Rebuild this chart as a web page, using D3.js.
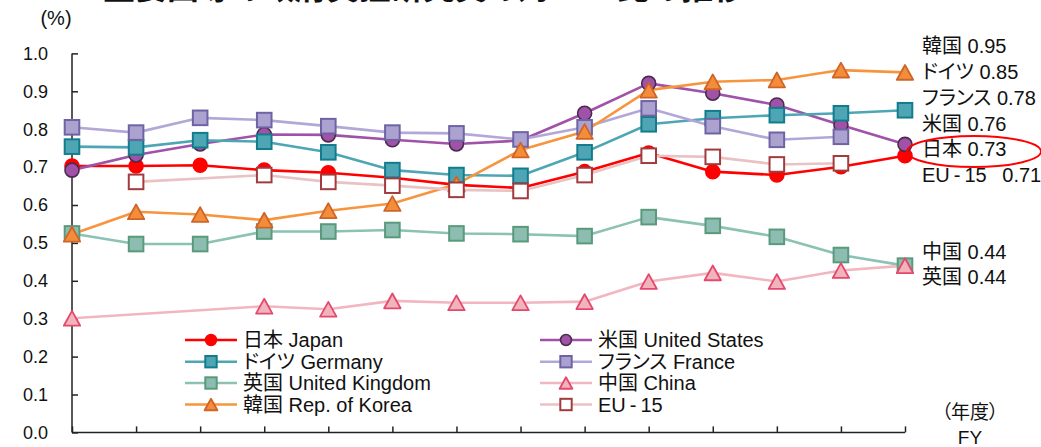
<!DOCTYPE html>
<html>
<head>
<meta charset="utf-8">
<script src="https://cdn.jsdelivr.net/npm/d3@7"></script>
<style>
  html, body { margin: 0; padding: 0; background: #fff; }
  svg { display: block; }
  text { font-family: "Liberation Sans", Arial, "Noto Sans CJK JP", sans-serif; fill: #111; font-feature-settings: "palt"; }
</style>
</head>
<body>
<svg id="chart" width="1041" height="447"></svg>
<script>
// Fiscal years on the horizontal axis
const categories = ["2000", "2001", "2002", "2003", "2004", "2005", "2006",
                    "2007", "2008", "2009", "2010", "2011", "2012", "2013"];
const yTicks = [0, 0.1, 0.2, 0.3, 0.4, 0.5, 0.6, 0.7, 0.8, 0.9, 1.0];

// Ratio (%) per country; null = no figure for that year
const japan   = [0.703, 0.703, 0.705, 0.692, 0.685, 0.672, 0.653, 0.645, 0.688, 0.737, 0.688, 0.679, 0.701, 0.73];
const usa     = [0.692, 0.732, 0.761, 0.786, 0.785, 0.772, 0.761, 0.770, 0.842, 0.921, 0.895, 0.864, 0.811, 0.76];
const germany = [0.754, 0.752, 0.771, 0.767, 0.739, 0.692, 0.679, 0.677, 0.739, 0.813, 0.829, 0.837, 0.842, 0.85];
const france  = [0.805, 0.791, 0.830, 0.824, 0.808, 0.791, 0.789, 0.773, 0.805, 0.855, 0.808, 0.772, 0.78, null];
const uk      = [0.525, 0.497, 0.497, 0.530, 0.530, 0.534, 0.525, 0.523, 0.518, 0.568, 0.545, 0.516, 0.468, 0.44];
const china   = [0.301, null, null, 0.333, 0.325, 0.347, 0.342, 0.342, 0.345, 0.398, 0.421, 0.398, 0.427, 0.44];
const korea   = [0.523, 0.582, 0.575, 0.560, 0.585, 0.604, 0.655, 0.745, 0.794, 0.903, 0.925, 0.930, 0.956, 0.95];
const eu15    = [null, 0.661, null, 0.679, 0.661, 0.651, 0.640, 0.637, 0.679, 0.730, 0.727, 0.707, 0.71, null];

// Latest-value labels on the right
const endLabels = [
  { name: "韓国", value: 0.95 },
  { name: "ドイツ", value: 0.85 },
  { name: "フランス", value: 0.78 },
  { name: "米国", value: 0.76 },
  { name: "日本", value: 0.73 },
  { name: "EU\u2009-\u200915\u2002", value: 0.71 }
];
const lowLabels = [
  { name: "中国", value: 0.44 },
  { name: "英国", value: 0.44 }
];

const series = [
  { label: "日本 Japan",          values: japan,   line: "#ff0000", fill: "#ff0000", stroke: "#ff0000", shape: "circle" },
  { label: "米国 United States",  values: usa,     line: "#a052a8", fill: "#a052a8", stroke: "#4a2a4e", shape: "circle" },
  { label: "ドイツ Germany",      values: germany, line: "#4ea6b5", fill: "#4ea6b5", stroke: "#137c8c", shape: "square" },
  { label: "フランス France",     values: france,  line: "#b3a7d8", fill: "#aca2d0", stroke: "#6f64a3", shape: "square" },
  { label: "英国 United Kingdom", values: uk,      line: "#8cc2b4", fill: "#8dbcb0", stroke: "#5a9a7c", shape: "square" },
  { label: "中国 China",          values: china,   line: "#f2b6bf", fill: "#f0b4bd", stroke: "#e6476c", shape: "triangle" },
  { label: "韓国 Rep. of Korea",  values: korea,   line: "#f7953f", fill: "#f48d3a", stroke: "#cf6429", shape: "triangle" },
  { label: "EU\u2009-\u200915",   values: eu15,    line: "#e9c2c3", fill: "#ffffff", stroke: "#a13b3d", shape: "square" }
];

const svg = d3.select("#chart");
svg.append("rect").attr("width", 1041).attr("height", 447).attr("fill", "#fff");

const x = d3.scalePoint().domain(categories).range([72, 905]);
const y = d3.scaleLinear().domain([0, 1]).range([432.4, 53.4]);

// Title (runs off the top edge)
svg.append("text")
  .attr("x", 424).attr("y", -1)
  .attr("text-anchor", "middle")
  .style("font-size", "32px").style("font-weight", "bold")
  .style("font-family", "'Noto Sans CJK JP', sans-serif")
  .text("主要国等の政府負担研究費の対GDP比の推移");

// Y axis with inward ticks
const yAxis = svg.append("g").attr("transform", "translate(72,0)")
  .call(d3.axisRight(y).tickValues(yTicks).tickSize(6).tickFormat(""));
yAxis.select(".domain").attr("stroke", "#222").attr("stroke-width", 1.5).attr("d", `M0,${y(0)}V${y(1)}`);
yAxis.selectAll(".tick line").attr("stroke", "#222").attr("stroke-width", 1.5);

svg.append("g").selectAll("text").data(yTicks).join("text")
  .attr("x", 48).attr("y", d => y(d))
  .attr("dy", "0.35em").attr("text-anchor", "end")
  .style("font-size", "18px")
  .text(d => d3.format(".1f")(d));

svg.append("text").attr("x", 56).attr("y", 18).attr("dy", "0.35em")
  .attr("text-anchor", "middle").style("font-size", "20px").text("(%)");

// X axis with inward ticks
const xAxis = svg.append("g").attr("transform", `translate(0,${y(0)})`)
  .call(d3.axisTop(x).tickSize(6).tickFormat(""));
xAxis.select(".domain").attr("stroke", "#222").attr("stroke-width", 1.5).attr("d", `M${x(categories[0])},0H${x(categories[categories.length - 1])}`);
xAxis.selectAll(".tick line").attr("stroke", "#222").attr("stroke-width", 1.5);

svg.append("text").attr("x", 970).attr("y", 412).attr("dy", "0.35em")
  .attr("text-anchor", "middle").style("font-size", "19px").text("（年度）");
svg.append("text").attr("x", 970).attr("y", 437).attr("dy", "0.35em")
  .attr("text-anchor", "middle").style("font-size", "19px").text("FY");

// Marker drawing helper
function marker(g, shape, s, fill, stroke) {
  if (shape === "circle") {
    g.append("circle").attr("r", 7 * s).attr("fill", fill).attr("stroke", stroke).attr("stroke-width", 1.6);
  } else if (shape === "square") {
    const h = 7.3 * s;
    g.append("rect").attr("x", -h).attr("y", -h).attr("width", 2 * h).attr("height", 2 * h)
      .attr("fill", fill).attr("stroke", stroke).attr("stroke-width", 2);
  } else {
    const w = 8.2 * s, t = 7.4 * s;
    g.append("path").attr("d", `M0,${-t}L${w},${t}L${-w},${t}Z`)
      .attr("fill", fill).attr("stroke", stroke).attr("stroke-width", 1.8).attr("stroke-linejoin", "round");
  }
}

const line = d3.line()
  .defined(d => d.v != null)
  .x(d => x(d.c)).y(d => y(d.v));

const plot = svg.append("g");
series.forEach(s => {
  const pts = s.values.map((v, i) => ({ c: categories[i], v })).filter(d => d.v != null);
  plot.append("path").datum(pts)
    .attr("fill", "none").attr("stroke", s.line).attr("stroke-width", 2.6)
    .attr("stroke-linejoin", "round").attr("d", line);
});
series.forEach(s => {
  const pts = s.values.map((v, i) => ({ c: categories[i], v })).filter(d => d.v != null);
  pts.forEach(d => {
    const g = plot.append("g").attr("transform", `translate(${x(d.c)},${y(d.v)})`);
    marker(g, s.shape, 1, s.fill, s.stroke);
  });
});

// Legend in two columns
const legendCols = [{ lx: 185, tx: 243 }, { lx: 540, tx: 598 }];
const legendRows = [340, 361.7, 383, 404.5];
series.forEach((s, i) => {
  const col = legendCols[i % 2], row = legendRows[Math.floor(i / 2)];
  const g = svg.append("g");
  g.append("line").attr("x1", col.lx).attr("x2", col.lx + 52).attr("y1", row).attr("y2", row)
    .attr("stroke", s.line).attr("stroke-width", 2.6);
  const m = g.append("g").attr("transform", `translate(${col.lx + 26},${row})`);
  marker(m, s.shape, 0.78, s.fill, s.stroke);
  g.append("text").attr("x", col.tx).attr("y", row).attr("dy", "0.36em")
    .style("font-size", "20px").text(s.label);
});

// Right-hand value labels
svg.append("g").selectAll("text").data(endLabels).join("text")
  .attr("x", 922).attr("y", (d, i) => 46 + i * 25.8).attr("dy", "0.36em")
  .style("font-size", "20px").text(d => `${d.name} ${d.value.toFixed(2)}`);
svg.append("g").selectAll("text").data(lowLabels).join("text")
  .attr("x", 922).attr("y", (d, i) => 251.5 + i * 25).attr("dy", "0.36em")
  .style("font-size", "20px").text(d => `${d.name} ${d.value.toFixed(2)}`);

// Highlight ring around Japan's label
svg.append("ellipse").attr("cx", 974).attr("cy", 151.5).attr("rx", 67).attr("ry", 15.5)
  .attr("fill", "none").attr("stroke", "#ff0000").attr("stroke-width", 2);
</script>
</body>
</html>
